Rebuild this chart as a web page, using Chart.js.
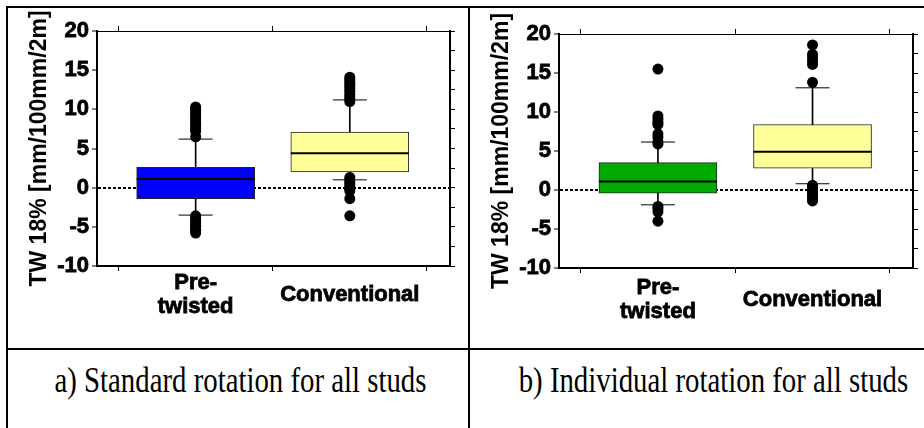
<!DOCTYPE html>
<html>
<head>
<meta charset="utf-8">
<script src="https://cdn.jsdelivr.net/npm/chart.js@4.4.0/dist/chart.umd.min.js"></script>
<style>
body { margin:0; background:#fff; width:924px; height:428px; overflow:hidden; position:relative; }
.line { position:absolute; background:#000; }
.panel { position:absolute; }
.cap { position:absolute; top:362px; font-family:"Liberation Serif","Times New Roman",serif; font-size:36px; line-height:36px; text-align:center; white-space:nowrap; color:#000; }
.cap span { display:inline-block; transform:scaleX(0.8); }
</style>
</head>
<body>
<div class="line" style="left:6px;top:6px;width:918px;height:2px"></div>
<div class="line" style="left:6px;top:6px;width:2px;height:422px"></div>
<div class="line" style="left:468px;top:6px;width:2px;height:422px"></div>
<div class="line" style="left:6px;top:348px;width:918px;height:2px"></div>
<div class="panel" style="left:8px;top:8px;width:460px;height:340px"><canvas id="chartA"></canvas></div>
<div class="panel" style="left:470px;top:8px;width:454px;height:340px"><canvas id="chartB"></canvas></div>
<div class="cap" style="left:8px;width:460px"><span>a) Standard rotation for all studs</span></div>
<div class="cap" style="left:470px;width:454px"><span>b) Individual rotation for all studs</span></div>
<script>
var categories = [['Pre-', 'twisted'], 'Conventional'];
var yLabel = 'TW 18% [mm/100mm/2m]';

// a) standard rotation
var stdQ1 = [-1.4, 2.0];
var stdMedian = [1.1, 4.4];
var stdQ3 = [2.6, 7.1];
var stdLow = [-3.5, 1.0];
var stdHigh = [6.2, 11.2];
var stdOutPre = [6.5, 7.2, 7.5, 7.8, 8.1, 8.4, 8.8, 9.1, 9.4, 9.7, 10.0, 10.3, -3.6, -3.9, -4.2, -4.5, -4.8, -5.0, -5.3, -5.5, -5.8];
var stdOutConv = [11.0, 11.3, 11.6, 11.9, 12.3, 12.6, 12.9, 13.2, 13.5, 13.8, 14.1, 1.3, 1.0, 0.7, 0.4, 0.1, -0.2, -0.4, -1.4, -3.6];

// b) individual rotation
var indQ1 = [-0.4, 2.8];
var indMedian = [1.1, 4.9];
var indQ3 = [3.5, 8.4];
var indLow = [-1.9, 0.8];
var indHigh = [6.15, 13.1];
var indOutPre = [5.9, 6.2, 6.8, 7.2, 8.4, 8.7, 9.1, 9.5, 15.5, -2.1, -2.4, -2.8, -4.0];
var indOutConv = [13.8, 16.1, 16.5, 17.0, 17.4, 18.6, 0.6, 0.3, 0.0, -0.3, -0.6, -0.9, -1.2, -1.4];

var colorsA = ['#0000ff', '#ffff99'];
var colorsB = ['#00aa00', '#ffff99'];

var boldFont = function(size) {
  return { family: 'Arial, "Liberation Sans", sans-serif', size: size, weight: 'bold', lineHeight: 1.1 };
};

function makeChart(id, q1, med, q3, lo, hi, outs, colors, pad, bottomH, labelPad) {
  var idx = categories.map(function(c, i) { return i + 1; });
  var stems = idx.map(function(x, i) { return { x: x, y: [lo[i], hi[i]] }; });
  var boxes = idx.map(function(x, i) { return { x: x, y: [q1[i], q3[i]] }; });
  var medians = idx.map(function(x, i) { return { x: x, y: med[i] }; });
  var caps = [];
  idx.forEach(function(x, i) { caps.push({ x: x, y: lo[i] }); caps.push({ x: x, y: hi[i] }); });
  var points = [];
  outs.forEach(function(list, i) {
    list.forEach(function(v) { points.push({ x: i + 1, y: v }); });
  });
  var catTicks = function(scale) {
    scale.ticks = idx.map(function(x) { return { value: x }; });
  };

  return new Chart(document.getElementById(id), {
    type: 'bar',
    data: {
      datasets: [
        { type: 'bar', data: stems, backgroundColor: '#000', barThickness: 1, grouped: false, order: 4 },
        { type: 'bar', data: boxes, backgroundColor: colors, borderColor: '#222', borderWidth: 1,
          borderSkipped: false, barThickness: 118, grouped: false, order: 3 },
        { type: 'scatter', data: medians, pointStyle: 'line', pointRadius: 59, borderColor: '#000', borderWidth: 2, order: 2 },
        { type: 'scatter', data: caps, pointStyle: 'line', pointRadius: 17, borderColor: '#000', borderWidth: 1, order: 2 },
        { type: 'scatter', data: points, pointRadius: 5.5, backgroundColor: '#000', borderWidth: 0, order: 1 }
      ]
    },
    options: {
      responsive: true,
      maintainAspectRatio: false,
      animation: false,
      layout: { padding: pad, autoPadding: false },
      plugins: { legend: { display: false }, tooltip: { enabled: false } },
      scales: {
        x: {
          type: 'linear', position: 'bottom', min: 0.36, max: 2.65, offset: false,
          afterBuildTicks: catTicks,
          afterFit: function(s) { s.height = bottomH; },
          ticks: {
            callback: function(v, i) { return categories[i]; },
            font: boldFont(22), color: '#000', maxRotation: 0, autoSkip: false,
            crossAlign: 'center', padding: labelPad,
            textStrokeColor: '#000', textStrokeWidth: 0.8
          },
          grid: { drawOnChartArea: false, tickLength: 5, tickColor: '#000' },
          border: { color: '#000', width: 2 }
        },
        x2: {
          type: 'linear', position: 'top', min: 0.36, max: 2.65, offset: false,
          afterBuildTicks: catTicks,
          afterFit: function(s) { s.height = 6; },
          ticks: { display: false },
          grid: { drawOnChartArea: false, tickLength: 5, tickColor: '#000' },
          border: { color: '#000', width: 1 }
        },
        y: {
          type: 'linear', position: 'left', min: -10, max: 20,
          afterFit: function(s) { s.width = 89; },
          ticks: {
            stepSize: 2.5,
            callback: function(v) { return v % 5 === 0 ? v : ''; },
            font: boldFont(22), color: '#000', padding: 3,
            textStrokeColor: '#000', textStrokeWidth: 0.8
          },
          grid: {
            color: function(ctx) { return ctx.tick && ctx.tick.value === 0 ? '#000' : 'transparent'; },
            lineWidth: 2, tickLength: 5, tickColor: '#000', tickWidth: 1
          },
          border: { color: '#000', width: 2, dash: [3, 2] },
          title: { display: true, text: yLabel, font: boldFont(23), color: '#000', padding: { top: 19, bottom: 0 } }
        },
        y2: {
          type: 'linear', position: 'right', min: -10, max: 20,
          afterFit: function(s) { s.width = 6; },
          ticks: { stepSize: 2.5, display: false },
          grid: { drawOnChartArea: false, tickLength: 5, tickColor: '#000', tickWidth: 1 },
          border: { color: '#000', width: 2 }
        }
      }
    }
  });
}

makeChart('chartA', stdQ1, stdMedian, stdQ3, stdLow, stdHigh, [stdOutPre, stdOutConv], colorsA,
  { top: 17, right: 12, bottom: 0, left: 0 }, 82, 12);
makeChart('chartB', indQ1, indMedian, indQ3, indLow, indHigh, [indOutPre, indOutConv], colorsB,
  { top: 20, right: 5, bottom: 0, left: 0 }, 80, 15);
</script>
</body>
</html>
